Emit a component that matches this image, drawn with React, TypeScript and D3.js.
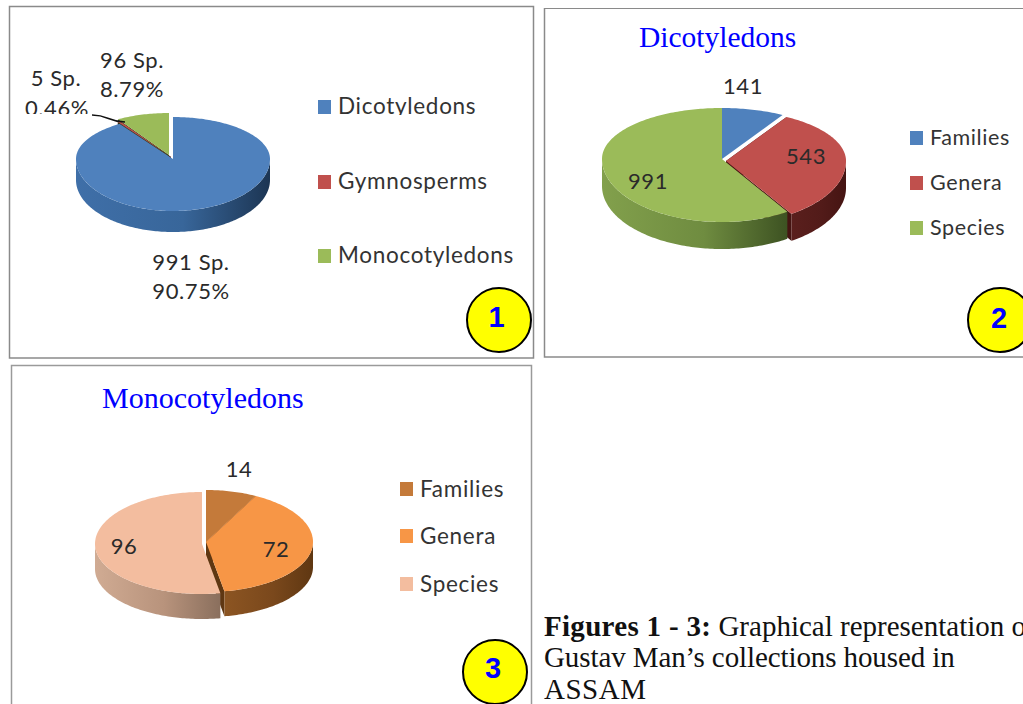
import React from "react";
import * as d3 from "d3";

// ---- data ----
const chart1Categories = ["Dicotyledons", "Gymnosperms", "Monocotyledons"];
const chart1Values = [991, 5, 96];
const chart1Percents = ["90.75%", "0.46%", "8.79%"];
const chart2Title = "Dicotyledons";
const chart2Categories = ["Families", "Genera", "Species"];
const chart2Values = [141, 543, 991];
const chart3Title = "Monocotyledons";
const chart3Categories = ["Families", "Genera", "Species"];
const chart3Values = [14, 72, 96];
const captionBold = "Figures 1 - 3:";
const captionLines = ["Graphical representation of", "Gustav Man\u2019s collections housed in", "ASSAM"];

const officeColors = ["#4f81bd", "#c0504d", "#9bbb59"];
const orangeColors = ["#c47a3a", "#f79646", "#f3bd9f"];
const wall1: [string, string, string][] = [["#3f6fa8", "#38669a", "#1c3553"], ["#7a2e2c", "#6a2624", "#5a1f1d"], ["#3f5424", "#3f5424", "#2c3c18"]];
const wall2: [string, string, string][] = [["#3f6fa8", "#38669a", "#1c3553"], ["#5a1f1d", "#521b19", "#451412"], ["#82a04c", "#6f8c40", "#3d5222"]];
const wall3: [string, string, string][] = [["#8c5522", "#7a481c", "#5f3712"], ["#8c5522", "#7a481c", "#5f3712"], ["#d0ab93", "#b8937c", "#8a6f5d"]];

const SANS = "Lato, 'Open Sans', sans-serif";
const SERIF = "'Liberation Serif', serif";
const ARIAL = "'Liberation Sans', sans-serif";
const INK = "#2a2a2a";

type P = [number, number];
interface PieProps {
  id: string; values: number[]; colors: string[]; walls: [string, string, string][];
  offsets: P[]; cx: number; cy: number; rx: number; ryTop: number; ryBottom: number; depth: number;
}

function Pie3D({ id, values, colors, walls, offsets, cx, cy, rx, ryTop, ryBottom, depth }: PieProps) {
  const arcs = d3.pie<number>().sort(null)(values);
  const line = d3.line<P>();
  const rim = (a: number, o: P, z = 0): P => {
    const c = Math.cos(a);
    return [cx + o[0] + rx * Math.sin(a), cy + o[1] + z - (c > 0 ? ryTop : ryBottom) * c];
  };
  const sweep = (a0: number, a1: number) => {
    const n = Math.max(2, Math.ceil(Math.abs(a1 - a0) / 0.02));
    return d3.range(n + 1).map((i) => a0 + ((a1 - a0) * i) / n);
  };
  const parts = arcs.map((d, i) => {
    const o = offsets[i];
    const apex: P = [cx + o[0], cy + o[1]];
    const apexLow: P = [apex[0], apex[1] + depth];
    const top = line([apex, ...sweep(d.startAngle, d.endAngle).map((a) => rim(a, o))]) + "Z";
    const v0 = Math.max(d.startAngle, Math.PI / 2);
    const v1 = Math.min(d.endAngle, (3 * Math.PI) / 2);
    let outer: string | null = null;
    let xs: number[] = [cx, cx + 1];
    if (v1 > v0) {
      const s = sweep(v0, v1);
      outer = line([...s.map((a) => rim(a, o)), ...s.slice().reverse().map((a) => rim(a, o, depth))]) + "Z";
      xs = s.map((a) => rim(a, o)[0]);
    }
    const moved = o[0] !== 0 || o[1] !== 0;
    const sides = moved
      ? [d.startAngle, d.endAngle].map((a) => line([apex, rim(a, o), rim(a, o, depth), apexLow]) + "Z")
      : [];
    return { i, top, outer, sides, x1: d3.min(xs)!, x2: d3.max(xs)! };
  });
  return (
    <g>
      <defs>
        {parts.map((p) => (
          <linearGradient key={p.i} id={`${id}-w${p.i}`} gradientUnits="userSpaceOnUse" x1={p.x1} x2={p.x2} y1={0} y2={0}>
            <stop offset="0" stopColor={walls[p.i][0]} />
            <stop offset="0.55" stopColor={walls[p.i][1]} />
            <stop offset="1" stopColor={walls[p.i][2]} />
          </linearGradient>
        ))}
      </defs>
      {parts.map((p) => (
        <g key={p.i}>
          {p.sides.map((s, k) => <path key={k} d={s} fill={walls[p.i][2]} />)}
          {p.outer && <path d={p.outer} fill={`url(#${id}-w${p.i})`} />}
        </g>
      ))}
      {parts.map((p) => <path key={p.i} d={p.top} fill={colors[p.i]} />)}
    </g>
  );
}

function Legend({ items, colors, x, ys, size, spacing, clipId, textDy = 7 }: { items: string[]; colors: string[]; x: number; ys: number[]; size: number; spacing: number; clipId?: string; textDy?: number }) {
  return (
    <g>
      {items.map((t, i) => (
        <g key={t}>
          <rect x={x} y={ys[i] - 7} width={13} height={14} fill={colors[i]} />
          <text x={x + 20} y={ys[i] + textDy} fontFamily={SANS} fontSize={size} letterSpacing={spacing} fill="#333" clipPath={i === 0 ? clipId && `url(#${clipId})` : undefined}>{t}</text>
        </g>
      ))}
    </g>
  );
}

function Label({ x, y, t, size = 22, clipId }: { x: number; y: number; t: string; size?: number; clipId?: string }) {
  return <text x={x} y={y} textAnchor="middle" fontFamily={SANS} fontSize={size} letterSpacing={0.6} fill={INK} clipPath={clipId && `url(#${clipId})`}>{t}</text>;
}

function Badge({ x, y, r, t, tx, ty }: { x: number; y: number; r: number; t: string; tx: number; ty: number }) {
  return (
    <g>
      <circle cx={x} cy={y} r={r} fill="#ffff00" stroke="#000" strokeWidth={2} />
      <text x={tx} y={ty} textAnchor="middle" fontFamily={ARIAL} fontWeight="bold" fontSize={29} fill="#0000ff">{t}</text>
    </g>
  );
}

export default function App() {
  const leader = d3.line<P>().curve(d3.curveBumpX)([[92, 115], [125, 122]]) as string;
  return (
    <svg width={1023} height={704} viewBox="0 0 1023 704" style={{ position: "absolute", left: 0, top: 0 }}>
      <rect width={1023} height={704} fill="#fff" />
      <defs>
        <clipPath id="clipLabel"><rect x={0} y={0} width={300} height={114} /></clipPath>
        <clipPath id="clipLegend"><rect x={300} y={0} width={300} height={115} /></clipPath>
      </defs>

      {/* frames */}
      <path d="M9.5 358V6.5H533.5V358Z" fill="none" stroke="#8a8a8a" strokeWidth={1.5} />
      <path d="M544.5 8V357H1023" fill="none" stroke="#8a8a8a" strokeWidth={1.5} />
      <path d="M544 8.5H1023" fill="none" stroke="#8a8a8a" strokeWidth={1} />
      <path d="M11.5 704V365.5H531.5V704" fill="none" stroke="#9a9a9a" strokeWidth={1.5} />

      {/* chart 1 */}
      <Pie3D id="p1" values={chart1Values} colors={officeColors} walls={wall1} offsets={[[0, 0], [-2, -2], [-4, -4]]} cx={173} cy={159} rx={97} ryTop={42} ryBottom={52} depth={21} />
      <path d={leader} fill="none" stroke="#111" strokeWidth={1.6} />
      <Label x={56} y={86} t={`${chart1Values[1]} Sp.`} />
      <Label x={57} y={116} t={chart1Percents[1]} clipId="clipLabel" />
      <Label x={132} y={68} t={`${chart1Values[2]} Sp.`} />
      <Label x={132} y={97} t={chart1Percents[2]} />
      <Label x={191} y={270} t={`${chart1Values[0]} Sp.`} />
      <Label x={191} y={299} t={chart1Percents[0]} />
      <Legend items={chart1Categories} colors={officeColors} x={318} ys={[107, 182, 256]} size={22.5} spacing={0.7} clipId="clipLegend" />
      <Badge x={499} y={320} r={32} t="1" tx={496.5} ty={327} />

      {/* chart 2 */}
      <text x={639} y={47} fontFamily={SERIF} fontSize={29.5} fill="#0000ff">{chart2Title}</text>
      <Pie3D id="p2" values={chart2Values} colors={officeColors} walls={wall2} offsets={[[0, 0], [4, 2], [0, 0]]} cx={722} cy={159} rx={120} ryTop={51} ryBottom={63} depth={27} />
      <Label x={743} y={94} t={`${chart2Values[0]}`} />
      <Label x={806} y={164} t={`${chart2Values[1]}`} />
      <Label x={648} y={189} t={`${chart2Values[2]}`} />
      <Legend items={chart2Categories} colors={officeColors} x={910} ys={[138, 183, 228]} size={21.5} spacing={0.6} />
      <Badge x={1000} y={320} r={32} t="2" tx={999} ty={328} />

      {/* chart 3 */}
      <text x={102} y={408} fontFamily={SERIF} fontSize={30} fill="#0000ff">{chart3Title}</text>
      <Pie3D id="p3" values={chart3Values} colors={orangeColors} walls={wall3} offsets={[[4, -2], [4, -2], [0, 0]]} cx={202} cy={544} rx={107} ryTop={52} ryBottom={50} depth={25} />
      <Label x={239} y={477} t={`${chart3Values[0]}`} />
      <Label x={276} y={557} t={`${chart3Values[1]}`} />
      <Label x={124} y={554} t={`${chart3Values[2]}`} />
      <Legend items={chart3Categories} colors={orangeColors} x={400} ys={[489, 536, 584]} size={22.5} spacing={0.7} textDy={8} />
      <Badge x={495} y={672} r={32} t="3" tx={493} ty={678} />

      {/* caption */}
      <text x={544} y={636} fontFamily={SERIF} fontSize={29} fill="#111">
        <tspan fontWeight="bold" letterSpacing={0.3}>{captionBold}</tspan>
        <tspan> {captionLines[0]}</tspan>
      </text>
      <text x={544} y={667} fontFamily={SERIF} fontSize={29} letterSpacing={-0.1} fill="#111">{captionLines[1]}</text>
      <text x={544} y={699} fontFamily={SERIF} fontSize={29} letterSpacing={0.5} fill="#111">{captionLines[2]}</text>
    </svg>
  );
}
